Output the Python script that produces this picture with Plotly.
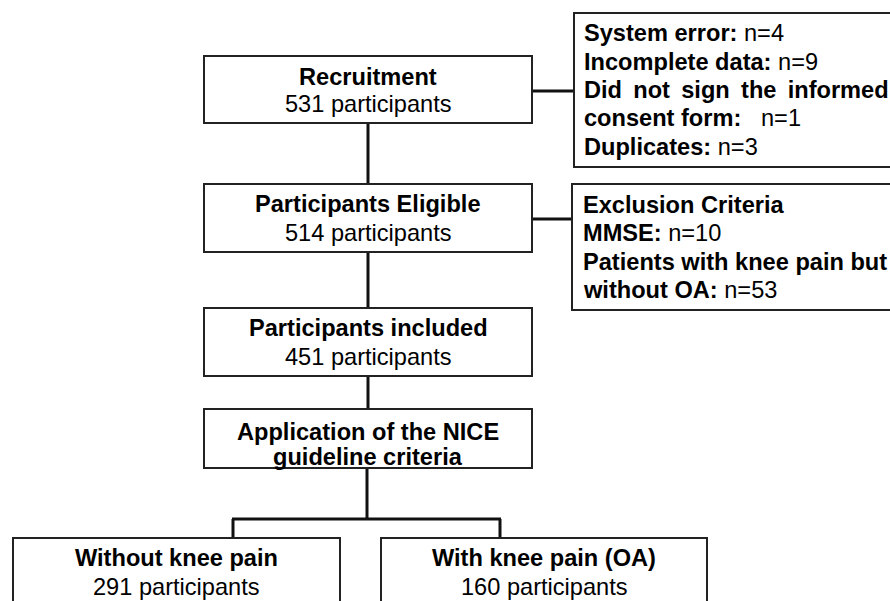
import plotly.graph_objects as go

# ---- data (text content) ----
main_titles = ["Recruitment", "Participants Eligible", "Participants included"]
main_counts = [531, 514, 451]
nice_lines = ["Application of the NICE", "guideline criteria"]
outcome_titles = ["Without knee pain", "With knee pain (OA)"]
outcome_counts = [291, 160]
excl1_labels = ["System error:", "Incomplete data:", "Did \u2009not \u2009sign \u2009the \u2009informed", "consent form:", "Duplicates:"]
excl1_values = ["n=4", "n=9", "", "\u00a0 n=1", "n=3"]
excl2_labels = ["Exclusion Criteria", "MMSE:", "Patients with knee pain but", "without OA:"]
excl2_values = ["", "n=10", "", "n=53"]

# ---- layout geometry (pixels in the 890x601 page) ----
W, H = 890, 601
FONT = "Liberation Sans, Arial, sans-serif"
FS = 23.6
LINE = "#111111"
BOX = "#222222"

main_boxes = [(204, 56, 532, 123), (204, 184, 532, 252), (204, 308, 532, 376)]
main_text_y = [(77, 104), (204, 233), (328, 357)]
nice_box = (204, 409, 532, 468)
nice_text_y = (432, 457)
out_boxes = [(13, 538, 340, 640), (381, 538, 707, 640)]
out_text_y = (558, 587)
ex1_box = (574, 13, 900, 167)
ex1_y = [33, 62, 90, 118, 147]
ex2_box = (572, 184, 900, 310)
ex2_y = [205, 233, 262, 290]

shapes = []
annotations = []

def rect(b):
    shapes.append(dict(type="rect", xref="x", yref="y", x0=b[0], y0=b[1], x1=b[2], y1=b[3],
                       line=dict(color=BOX, width=2), fillcolor="white", layer="below"))

def seg(x0, y0, x1, y1):
    shapes.append(dict(type="line", xref="x", yref="y", x0=x0, y0=y0, x1=x1, y1=y1,
                       line=dict(color=LINE, width=3), layer="below"))

def text(x, y, s, anchor="center"):
    annotations.append(dict(x=x, y=y, xref="x", yref="y", text=s, showarrow=False,
                            xanchor=anchor, yanchor="middle", borderpad=0,
                            font=dict(family=FONT, size=FS, color="black")))

cx = 368
# connectors
seg(cx, 123, cx, 184)
seg(cx, 252, cx, 308)
seg(cx, 376, cx, 409)
seg(367, 468, 367, 519)
seg(232, 519, 501, 519)
seg(233, 519, 233, 538)
seg(500, 519, 500, 538)
seg(532, 91, 574, 91)
seg(532, 219, 572, 219)

for b in main_boxes + [nice_box] + out_boxes + [ex1_box, ex2_box]:
    rect(b)

for t, c, b, ty in zip(main_titles, main_counts, main_boxes, main_text_y):
    mx = (b[0] + b[2]) / 2
    text(mx, ty[0], f"<b>{t}</b>")
    text(mx, ty[1], f"{c} participants")

nx = (nice_box[0] + nice_box[2]) / 2
for s, y in zip(nice_lines, nice_text_y):
    text(nx, y, f"<b>{s}</b>")

for t, c, b in zip(outcome_titles, outcome_counts, out_boxes):
    mx = (b[0] + b[2]) / 2
    text(mx, out_text_y[0], f"<b>{t}</b>")
    text(mx, out_text_y[1], f"{c} participants")

for lab, val, y in zip(excl1_labels, excl1_values, ex1_y):
    text(583, y, f"<b>{lab}</b>" + (f" {val}" if val else ""), anchor="left")

for lab, val, y in zip(excl2_labels, excl2_values, ex2_y):
    text(582, y, f"<b>{lab}</b>" + (f" {val}" if val else ""), anchor="left")

fig = go.Figure()
fig.update_layout(
    width=W, height=H,
    margin=dict(l=0, r=0, t=0, b=0),
    paper_bgcolor="white", plot_bgcolor="white",
    xaxis=dict(range=[0, W], visible=False, fixedrange=True),
    yaxis=dict(range=[H, 0], visible=False, fixedrange=True),
    shapes=shapes, annotations=annotations,
    showlegend=False,
)
fig.write_html(
    "out.html",
    config={"displayModeBar": False},
    post_script="document.body.style.margin='0';document.body.style.overflow='hidden';",
)
